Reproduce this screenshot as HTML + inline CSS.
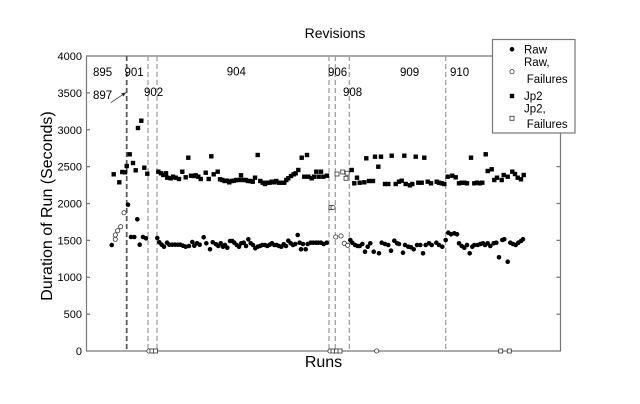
<!DOCTYPE html>
<html><head><meta charset="utf-8"><style>
html,body{margin:0;padding:0;background:#fff;}
svg{display:block;font-family:"Liberation Sans",Arial,sans-serif;}
</style></head><body>
<svg width="640" height="404" viewBox="0 0 640 404" xmlns="http://www.w3.org/2000/svg">
<defs>
<circle id="d" r="2.3" fill="#000"/>
<rect id="s" x="-2.2" y="-2.2" width="4.4" height="4.4" fill="#000"/>
<circle id="oc" r="2.1" fill="#fff" stroke="#333" stroke-width="0.8"/>
<rect id="os" x="-2" y="-2" width="4" height="4" fill="#fff" stroke="#333" stroke-width="0.8"/>
</defs>
<rect width="640" height="404" fill="#fff"/>
<text x="335" y="38" font-size="14" text-anchor="middle">Revisions</text>
<text transform="translate(52,206) rotate(-90)" font-size="16" text-anchor="middle">Duration of Run (Seconds)</text>
<text x="323.5" y="367" font-size="16" text-anchor="middle">Runs</text>
<g stroke="#777" stroke-width="1.2" fill="none">
<line x1="86.5" y1="56" x2="86.5" y2="351"/>
<line x1="86" y1="351" x2="560.5" y2="351"/>
<line x1="86" y1="56" x2="492" y2="56"/>
<line x1="560.5" y1="133" x2="560.5" y2="351.5"/>
<path d="M86 314.1h4M86 277.25h4M86 240.4h4M86 203.5h4M86 166.6h4M86 129.75h4M86 92.9h4M560.5 314.1h-4M560.5 277.25h-4M560.5 240.4h-4M560.5 203.5h-4M560.5 166.6h-4"/>
</g>
<g font-size="11" text-anchor="end">
<text x="82" y="355">0</text>
<text x="82" y="318">500</text>
<text x="82" y="281">1000</text>
<text x="82" y="244.4">1500</text>
<text x="82" y="207.5">2000</text>
<text x="82" y="170.6">2500</text>
<text x="82" y="133.8">3000</text>
<text x="82" y="96.9">3500</text>
<text x="82" y="60">4000</text>
</g>
<g stroke="#999" stroke-width="1.2" stroke-dasharray="5 3" fill="none">
<line x1="148" y1="56" x2="148" y2="351"/>
<line x1="157" y1="56" x2="157" y2="351"/>
<line x1="329" y1="56" x2="329" y2="351"/>
<line x1="335.3" y1="56" x2="335.3" y2="351"/>
<line x1="349.3" y1="56" x2="349.3" y2="351"/>
<line x1="445.7" y1="56" x2="445.7" y2="351"/>
</g>
<line x1="126.7" y1="56" x2="126.7" y2="351" stroke="#555" stroke-width="1.7" stroke-dasharray="5 3"/>
<g font-size="11.5">
<text x="93" y="76">895</text>
<text x="124.5" y="76">901</text>
<text x="93" y="99">897</text>
<text x="144" y="96">902</text>
<text x="226.7" y="75.5">904</text>
<text x="328" y="76">906</text>
<text x="343" y="96">908</text>
<text x="400" y="76">909</text>
<text x="450" y="76">910</text>
</g>
<line x1="110.7" y1="102.7" x2="124" y2="93.8" stroke="#333" stroke-width="0.8"/>
<path d="M126.5 92.2 L121.2 93.3 L123.5 96.5 Z" fill="#333"/>
<!-- Jp2 filled squares -->
<g>
<use href="#s" x="113.7" y="174.3"/><use href="#s" x="119.3" y="182.3"/><use href="#s" x="122.3" y="172"/><use href="#s" x="125" y="172.3"/><use href="#s" x="126.7" y="166"/><use href="#s" x="129.7" y="154.3"/><use href="#s" x="133" y="163"/><use href="#s" x="135.7" y="170.3"/><use href="#s" x="138" y="128"/><use href="#s" x="141.3" y="120.7"/><use href="#s" x="144.3" y="167.7"/><use href="#s" x="147.3" y="173.7"/><use href="#s" x="158.3" y="171.7"/>
<use href="#s" x="161" y="173.3"/><use href="#s" x="163.3" y="175"/><use href="#s" x="166" y="173.3"/><use href="#s" x="167.3" y="177.7"/><use href="#s" x="170.7" y="178.3"/><use href="#s" x="173" y="176.7"/><use href="#s" x="175.7" y="177.7"/><use href="#s" x="179" y="179"/><use href="#s" x="182.3" y="171.7"/><use href="#s" x="185.7" y="177.3"/><use href="#s" x="188.3" y="157.7"/><use href="#s" x="191" y="175.7"/><use href="#s" x="193.7" y="176"/><use href="#s" x="195.7" y="175.3"/><use href="#s" x="198.3" y="176.7"/><use href="#s" x="200.7" y="179"/><use href="#s" x="205.7" y="172.7"/><use href="#s" x="208.7" y="179"/><use href="#s" x="211.3" y="156.3"/><use href="#s" x="213.7" y="174.3"/>
<use href="#s" x="217.7" y="171.7"/><use href="#s" x="220" y="179.3"/><use href="#s" x="222.3" y="180"/><use href="#s" x="224.7" y="181"/><use href="#s" x="227" y="180.7"/><use href="#s" x="229.3" y="182.3"/><use href="#s" x="231.7" y="181"/><use href="#s" x="234" y="180.7"/><use href="#s" x="236.3" y="180"/><use href="#s" x="239" y="180"/><use href="#s" x="241" y="175.3"/><use href="#s" x="243.3" y="180"/><use href="#s" x="245.7" y="180"/><use href="#s" x="248" y="181"/><use href="#s" x="250.3" y="181"/><use href="#s" x="252.7" y="181.7"/><use href="#s" x="255" y="177.7"/><use href="#s" x="257.7" y="155"/><use href="#s" x="260.3" y="181"/><use href="#s" x="262.7" y="182.7"/><use href="#s" x="265" y="184"/><use href="#s" x="267.3" y="182.7"/><use href="#s" x="269.7" y="182.7"/><use href="#s" x="271.7" y="181.7"/><use href="#s" x="274.3" y="182.3"/><use href="#s" x="276.3" y="181"/><use href="#s" x="279" y="182.7"/><use href="#s" x="281.7" y="182.7"/><use href="#s" x="284.3" y="182.7"/><use href="#s" x="286.3" y="180"/><use href="#s" x="288.3" y="178.3"/><use href="#s" x="291" y="176"/><use href="#s" x="293.7" y="174.3"/><use href="#s" x="295.7" y="173.3"/><use href="#s" x="298.3" y="170"/><use href="#s" x="301.7" y="157.7"/><use href="#s" x="304.3" y="176.7"/><use href="#s" x="307" y="155"/><use href="#s" x="308.3" y="176.7"/><use href="#s" x="311.7" y="178.3"/><use href="#s" x="314" y="176.7"/><use href="#s" x="316.3" y="171.7"/><use href="#s" x="318.7" y="176.7"/><use href="#s" x="321" y="171.7"/><use href="#s" x="323.3" y="176.7"/>
<use href="#s" x="327" y="175.7"/><use href="#s" x="351.7" y="170"/><use href="#s" x="357" y="177.7"/><use href="#s" x="354.3" y="183.3"/><use href="#s" x="359.7" y="182.7"/><use href="#s" x="364.3" y="182.3"/><use href="#s" x="366.3" y="158.3"/><use href="#s" x="369" y="181"/><use href="#s" x="373" y="181"/><use href="#s" x="375" y="156.7"/><use href="#s" x="378.3" y="166.7"/><use href="#s" x="381" y="156.7"/><use href="#s" x="385" y="184"/><use href="#s" x="388.3" y="184"/><use href="#s" x="391.7" y="155.7"/><use href="#s" x="395.7" y="184"/><use href="#s" x="399" y="181.7"/><use href="#s" x="401.7" y="180.7"/><use href="#s" x="404.3" y="155.7"/><use href="#s" x="405.7" y="184"/><use href="#s" x="410" y="185.3"/><use href="#s" x="412.3" y="184"/><use href="#s" x="415.7" y="156.7"/><use href="#s" x="418.3" y="182.7"/><use href="#s" x="421.7" y="182.7"/><use href="#s" x="424.3" y="157.7"/><use href="#s" x="427.7" y="181.7"/><use href="#s" x="431" y="183.3"/>
<use href="#s" x="436.7" y="181.7"/><use href="#s" x="439" y="182.7"/><use href="#s" x="441.7" y="183.3"/><use href="#s" x="444.3" y="184"/><use href="#s" x="447.7" y="176.7"/><use href="#s" x="452.3" y="175.7"/><use href="#s" x="455.7" y="177.3"/><use href="#s" x="459" y="183.3"/><use href="#s" x="461.7" y="182.7"/><use href="#s" x="464.3" y="182.7"/><use href="#s" x="467" y="183.3"/><use href="#s" x="471" y="157.7"/><use href="#s" x="474.3" y="183.3"/><use href="#s" x="477" y="182.7"/><use href="#s" x="479.7" y="183.3"/><use href="#s" x="482.3" y="182.7"/><use href="#s" x="485.7" y="154.3"/><use href="#s" x="487.7" y="171"/><use href="#s" x="491.7" y="169.3"/><use href="#s" x="494.3" y="180"/><use href="#s" x="497" y="177.7"/><use href="#s" x="501.7" y="180"/><use href="#s" x="503.7" y="175"/><use href="#s" x="507.7" y="176.7"/><use href="#s" x="512.3" y="171.7"/><use href="#s" x="515" y="174"/><use href="#s" x="517.7" y="177.7"/><use href="#s" x="521" y="179.3"/><use href="#s" x="523.7" y="175"/>
</g>
<!-- Raw filled circles -->
<g>
<use href="#d" x="111.7" y="245"/><use href="#d" x="128" y="204.7"/><use href="#d" x="137.3" y="219.3"/><use href="#d" x="131" y="237"/><use href="#d" x="134.3" y="237"/><use href="#d" x="139.7" y="244.7"/><use href="#d" x="143" y="237"/><use href="#d" x="146" y="238.3"/><use href="#d" x="157.3" y="238"/><use href="#d" x="159.3" y="242.3"/><use href="#d" x="161.7" y="244.7"/><use href="#d" x="164" y="246.7"/><use href="#d" x="167" y="242.7"/><use href="#d" x="169.3" y="244.7"/><use href="#d" x="172.3" y="244.7"/><use href="#d" x="175" y="244.7"/><use href="#d" x="177.7" y="244.7"/><use href="#d" x="180.3" y="244.7"/><use href="#d" x="183" y="245.7"/><use href="#d" x="185.7" y="246.7"/><use href="#d" x="189" y="246"/><use href="#d" x="192.3" y="242"/><use href="#d" x="194.3" y="245.7"/><use href="#d" x="197" y="243.3"/><use href="#d" x="199.7" y="244.7"/><use href="#d" x="203.7" y="237.3"/><use href="#d" x="206.3" y="243.3"/><use href="#d" x="210" y="249.3"/><use href="#d" x="212.7" y="242.3"/>
<use href="#d" x="216" y="244.3"/><use href="#d" x="218.3" y="246"/><use href="#d" x="220.7" y="243.3"/><use href="#d" x="223" y="246.7"/><use href="#d" x="225" y="245"/><use href="#d" x="227.3" y="247.7"/><use href="#d" x="230" y="241"/><use href="#d" x="232.3" y="241"/><use href="#d" x="234.3" y="242.7"/><use href="#d" x="236.7" y="245"/><use href="#d" x="239" y="246.7"/><use href="#d" x="241.3" y="243.3"/><use href="#d" x="243.7" y="242.7"/><use href="#d" x="246" y="246"/><use href="#d" x="248.3" y="239.3"/><use href="#d" x="250.7" y="243.3"/><use href="#d" x="253" y="245"/><use href="#d" x="255.3" y="248.3"/><use href="#d" x="257.7" y="246.7"/><use href="#d" x="260" y="246"/><use href="#d" x="262.3" y="245"/><use href="#d" x="265" y="245"/><use href="#d" x="267.3" y="246"/><use href="#d" x="269.7" y="244.7"/><use href="#d" x="272" y="243.3"/><use href="#d" x="274.3" y="245"/><use href="#d" x="276.7" y="245"/><use href="#d" x="279" y="246"/><use href="#d" x="281.3" y="246.7"/><use href="#d" x="283.7" y="244.3"/><use href="#d" x="286" y="246"/><use href="#d" x="288.3" y="240.7"/><use href="#d" x="290.7" y="243.3"/><use href="#d" x="293" y="245"/><use href="#d" x="295.3" y="244"/><use href="#d" x="297.7" y="235"/><use href="#d" x="299.7" y="242.7"/><use href="#d" x="301" y="249.3"/><use href="#d" x="303" y="244"/><use href="#d" x="305.7" y="249.3"/><use href="#d" x="307.7" y="244"/><use href="#d" x="310.7" y="242.7"/><use href="#d" x="313.3" y="242.7"/><use href="#d" x="316" y="242.7"/><use href="#d" x="318.3" y="242.7"/><use href="#d" x="321" y="242.7"/><use href="#d" x="323.7" y="244"/>
<use href="#d" x="326.7" y="242.7"/><use href="#d" x="350.3" y="240"/><use href="#d" x="352.3" y="242.7"/><use href="#d" x="355" y="245"/><use href="#d" x="357.7" y="246"/><use href="#d" x="359.7" y="246"/><use href="#d" x="362.3" y="244"/><use href="#d" x="365" y="251.7"/><use href="#d" x="367.7" y="246.7"/><use href="#d" x="370.3" y="243.3"/><use href="#d" x="373.7" y="251.7"/><use href="#d" x="379" y="253.3"/><use href="#d" x="381.7" y="242.7"/><use href="#d" x="385" y="244"/><use href="#d" x="388.3" y="245"/><use href="#d" x="391" y="250.7"/><use href="#d" x="394.3" y="240.7"/><use href="#d" x="397" y="243.3"/><use href="#d" x="399" y="244"/><use href="#d" x="403" y="252.7"/><use href="#d" x="405" y="245"/><use href="#d" x="408.3" y="246.7"/><use href="#d" x="411" y="247.3"/><use href="#d" x="413.7" y="249.3"/><use href="#d" x="417" y="245"/><use href="#d" x="420.3" y="245"/><use href="#d" x="423" y="253.3"/><use href="#d" x="425.7" y="245"/><use href="#d" x="429" y="243.3"/><use href="#d" x="431.7" y="245"/>
<use href="#d" x="436.3" y="242.7"/><use href="#d" x="439" y="245"/><use href="#d" x="442.3" y="246.7"/><use href="#d" x="445.7" y="240"/><use href="#d" x="448.3" y="232.7"/><use href="#d" x="451" y="234.3"/><use href="#d" x="454.3" y="233.3"/><use href="#d" x="457" y="234.3"/><use href="#d" x="459" y="243.3"/><use href="#d" x="461.7" y="246"/><use href="#d" x="464.3" y="247.7"/><use href="#d" x="467" y="245"/><use href="#d" x="469.7" y="253.3"/><use href="#d" x="472.3" y="246.7"/><use href="#d" x="474.3" y="245"/><use href="#d" x="477.7" y="245"/><use href="#d" x="480.3" y="244"/><use href="#d" x="483" y="243.3"/><use href="#d" x="485" y="245"/><use href="#d" x="487.7" y="243.3"/><use href="#d" x="490.3" y="246"/><use href="#d" x="493.7" y="243.3"/><use href="#d" x="496.3" y="242.7"/><use href="#d" x="499" y="257.3"/><use href="#d" x="502.3" y="240"/><use href="#d" x="504.3" y="239.3"/><use href="#d" x="507.7" y="261.7"/><use href="#d" x="510.3" y="242.7"/><use href="#d" x="513" y="244"/><use href="#d" x="515.7" y="245"/><use href="#d" x="518.3" y="242.7"/><use href="#d" x="521" y="241"/><use href="#d" x="523" y="239.3"/>
</g>
<!-- failures -->
<g>
<use href="#oc" x="115.3" y="235"/><use href="#oc" x="115.3" y="239.3"/><use href="#oc" x="117.7" y="230.7"/><use href="#oc" x="120.7" y="226.7"/><use href="#oc" x="124" y="212.7"/>
<use href="#os" x="331" y="207.5"/><use href="#oc" x="333" y="207.5"/>
<use href="#oc" x="335.7" y="237"/><use href="#oc" x="341" y="236"/><use href="#oc" x="344.3" y="243.3"/><use href="#oc" x="347.7" y="245.3"/>
<use href="#os" x="337" y="174"/><use href="#os" x="342.7" y="172"/><use href="#os" x="347.2" y="173.2"/><use href="#os" x="346" y="178.3"/>
<use href="#oc" x="149" y="351"/><use href="#os" x="152" y="351"/><use href="#os" x="155.5" y="351"/>
<use href="#oc" x="330" y="351"/><use href="#os" x="333" y="351"/><use href="#os" x="336.5" y="351"/><use href="#os" x="340" y="351"/>
<use href="#oc" x="376.7" y="351"/>
<use href="#os" x="500.7" y="351"/><use href="#os" x="509.3" y="351"/>
</g>
<!-- legend -->
<rect x="492.5" y="39.5" width="82.5" height="93.5" fill="#fff" stroke="#777" stroke-width="1.2"/>
<use href="#d" x="512" y="49.3"/>
<use href="#oc" x="512" y="71.7"/>
<use href="#s" x="512" y="96"/>
<use href="#os" x="512" y="118.3"/>
<g font-size="11.5">
<text x="524" y="53.5">Raw</text>
<text x="524" y="66">Raw,</text>
<text x="526.7" y="83">Failures</text>
<text x="524" y="100">Jp2</text>
<text x="524" y="112.5">Jp2,</text>
<text x="526.7" y="128">Failures</text>
</g>
</svg>
</body></html>
